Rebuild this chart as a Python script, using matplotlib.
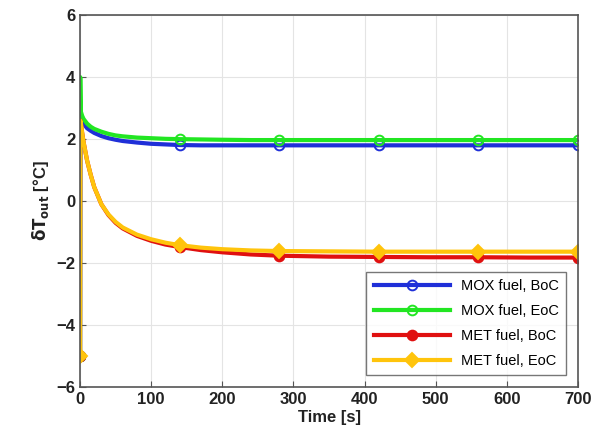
"""
Outlet temperature change after the transient, MOX vs MET fuel.
"""

import matplotlib.pyplot as plt

plt.rcParams["font.family"] = ["Liberation Sans", "DejaVu Sans"]

# Data
time = [0, 0.3, 1, 3, 5, 10, 15, 20, 30, 40, 50, 60, 80, 100, 120, 140,
        170, 200, 240, 280, 350, 420, 490, 560, 630, 700]
mox_boc = [-5, 2.7, 2.7, 2.6, 2.5, 2.35, 2.27, 2.2, 2.1, 2.03, 1.98, 1.94, 1.89,
           1.85, 1.83, 1.81, 1.8, 1.8, 1.8, 1.8, 1.8, 1.8, 1.8, 1.8, 1.8, 1.8]
mox_eoc = [-5, 4.0, 2.9, 2.75, 2.65, 2.5, 2.4, 2.33, 2.24, 2.17, 2.12, 2.09, 2.05,
           2.03, 2.01, 2.0, 1.99, 1.98, 1.97, 1.97, 1.97, 1.97, 1.97, 1.97, 1.97, 1.97]
met_boc = [-5, 2.6, 2.55, 2.2, 1.9, 1.3, 0.85, 0.45, -0.1, -0.45, -0.7, -0.88, -1.12,
           -1.28, -1.4, -1.48, -1.58, -1.65, -1.72, -1.76, -1.79, -1.8, -1.81, -1.81,
           -1.82, -1.82]
met_eoc = [-5, 2.6, 2.55, 2.2, 1.9, 1.3, 0.85, 0.45, -0.1, -0.43, -0.67, -0.85, -1.08,
           -1.23, -1.34, -1.42, -1.5, -1.55, -1.59, -1.61, -1.62, -1.63, -1.63, -1.63,
           -1.63, -1.63]
labels = ["MOX fuel, BoC", "MOX fuel, EoC", "MET fuel, BoC", "MET fuel, EoC"]
xticks = [0, 100, 200, 300, 400, 500, 600, 700]
yticks = [-6, -4, -2, 0, 2, 4, 6]

# markers every 140 s
mark_idx = [time.index(t) for t in (0, 140, 280, 420, 560, 700)]

fig = plt.figure(figsize=(6.04, 4.45), dpi=100)
ax = fig.add_axes([0.1325, 0.130, 0.8245, 0.836])

styles = [
    (mox_boc, "#1f2fd8", "o", "none"),
    (mox_eoc, "#22e622", "o", "none"),
    (met_boc, "#e01010", "o", "#e01010"),
    (met_eoc, "#ffc40c", "D", "#ffc40c"),
]
for (vals, col, mk, mfc), lab in zip(styles, labels):
    ax.plot(time, vals, color=col, lw=3, marker=mk, markersize=7,
            markerfacecolor=mfc, markeredgewidth=1.4, markevery=mark_idx,
            label=lab)

ax.set_xlim(0, 700)
ax.set_ylim(-6, 6)
ax.set_xticks(xticks)
ax.set_yticks(yticks)
ax.tick_params(direction="in", labelsize=12, length=4, color="#555555")
for lbl in ax.get_xticklabels() + ax.get_yticklabels():
    lbl.set_fontweight("bold")
    lbl.set_color("#222222")
ax.grid(color="#e4e4e4", linewidth=0.8)
for sp in ax.spines.values():
    sp.set_color("#555555")
    sp.set_linewidth(1.2)

ax.set_xlabel("Time [s]", fontsize=12, fontweight="bold", color="#222222", labelpad=2)
ax.set_ylabel(r"$\mathbf{\delta T_{out}}$ [°C]", fontsize=12, fontweight="bold",
              color="#222222", labelpad=4)

leg = ax.legend(loc="lower right", fontsize=10.5, frameon=True, fancybox=False,
                edgecolor="#555555", handlelength=5.2, borderpad=0.5,
                labelspacing=0.75, borderaxespad=0.8)
leg.get_frame().set_linewidth(1.0)

plt.savefig("out.png", dpi=100)
plt.close()
